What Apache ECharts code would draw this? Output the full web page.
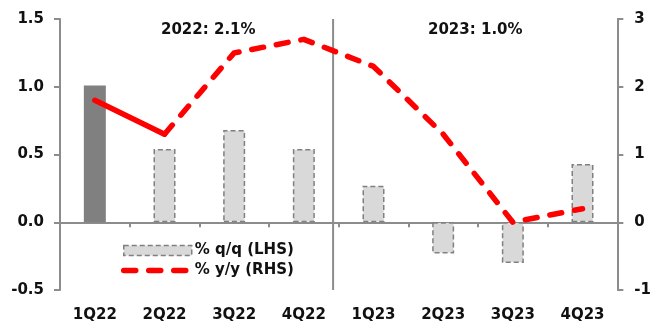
<!DOCTYPE html>
<html>
<head>
<meta charset="utf-8">
<script src="https://cdn.jsdelivr.net/npm/echarts@6/dist/echarts.min.js"></script>
<style>
  html, body { margin: 0; padding: 0; background: #fff; }
  #chart { width: 654px; height: 325px; }
</style>
</head>
<body>
<div id="chart"></div>
<script>
// Quarterly GDP growth: q/q bars on the left axis, y/y line on the right axis
const quarters = ['1Q22', '2Q22', '3Q22', '4Q22', '1Q23', '2Q23', '3Q23', '4Q23'];
const qoq = [1.01, 0.54, 0.68, 0.54, 0.27, -0.23, -0.30, 0.43];
const yoyActual = [1.8, 1.3, null, null, null, null, null, null];
const yoyForecast = [null, 1.3, 2.5, 2.7, 2.3, 1.3, 0.0, 0.2];
const leftTicks = { min: -0.5, max: 1.5, step: 0.5 };
const rightTicks = { min: -1, max: 3, step: 1 };
const yearNotes = ['2022: 2.1%', '2023: 1.0%'];
// Divider between 2022 and 2023, in category units from the left edge
const dividerAt = 3.92;

const FONT = 'DejaVu Sans';
const AXIS_GREY = '#8c8c8c';
const RED = '#ff0000';
const BAR_FILL = '#d9d9d9';
const BAR_EDGE = '#808080';
const labelStyle = { fontFamily: FONT, fontWeight: 'bold', fontSize: 15, color: '#111' };
const dashedLine = { color: RED, width: 5.5, type: [12, 13], cap: 'round', join: 'round' };
const barStyle = { color: BAR_FILL, borderColor: BAR_EDGE, borderWidth: 1.5, borderType: [5, 3] };

const chart = echarts.init(document.getElementById('chart'), null, { renderer: 'canvas' });

chart.setOption({
  animation: false,
  backgroundColor: '#fff',
  grid: { left: 60, right: 33, top: 19, bottom: 35, containLabel: false },
  legend: {
    orient: 'vertical',
    left: 116,
    top: 238,
    itemWidth: 68,
    itemHeight: 10,
    itemGap: 5,
    data: [
      { name: '% q/q (LHS)', icon: 'rect', itemStyle: barStyle },
      // line-only key: the marker dot is made transparent
      { name: '% y/y (RHS)', lineStyle: dashedLine, itemStyle: { color: 'rgba(0,0,0,0)', borderWidth: 0 } }
    ],
    textStyle: { fontFamily: FONT, fontWeight: 'bold', fontSize: 15, color: '#111', padding: [0, 0, 0, -2] }
  },
  graphic: [
    { type: 'text', left: 161, top: 23, style: { text: yearNotes[0], font: 'bold 15px "DejaVu Sans"', fill: '#111' } },
    { type: 'text', left: 428, top: 23, style: { text: yearNotes[1], font: 'bold 15px "DejaVu Sans"', fill: '#111' } }
  ],
  xAxis: [
    {
      type: 'category',
      data: quarters,
      axisLine: { onZero: true, lineStyle: { color: AXIS_GREY, width: 2 } },
      axisTick: { show: true, length: 5, lineStyle: { color: AXIS_GREY, width: 2 } },
      axisLabel: { show: false },
      splitLine: { show: false }
    },
    {
      type: 'category',
      data: quarters,
      position: 'bottom',
      axisLine: { show: false },
      axisTick: { show: false },
      axisLabel: Object.assign({ margin: 18 }, labelStyle),
      splitLine: { show: false }
    },
    {
      type: 'value',
      min: 0,
      max: quarters.length,
      show: false
    }
  ],
  yAxis: [
    {
      type: 'value',
      min: leftTicks.min,
      max: leftTicks.max,
      interval: leftTicks.step,
      axisLine: { show: true, lineStyle: { color: AXIS_GREY, width: 2 } },
      axisTick: { show: true, length: 6, lineStyle: { color: AXIS_GREY, width: 2 } },
      axisLabel: Object.assign({ margin: 16, formatter: v => v.toFixed(1) }, labelStyle),
      splitLine: { show: false }
    },
    {
      type: 'value',
      min: rightTicks.min,
      max: rightTicks.max,
      interval: rightTicks.step,
      position: 'right',
      axisLine: { show: true, lineStyle: { color: AXIS_GREY, width: 2 } },
      axisTick: { show: true, length: 6, lineStyle: { color: AXIS_GREY, width: 2 } },
      axisLabel: Object.assign({ margin: 17, formatter: v => String(v) }, labelStyle),
      splitLine: { show: false }
    }
  ],
  series: [
    {
      name: '% q/q (LHS)',
      type: 'bar',
      xAxisIndex: 0,
      yAxisIndex: 0,
      barWidth: 22,
      itemStyle: barStyle,
      data: qoq.map((v, i) => i === 0
        ? { value: v, itemStyle: { color: BAR_EDGE, borderWidth: 0 } }
        : v)
    },
    {
      name: 'divider',
      type: 'line',
      xAxisIndex: 2,
      yAxisIndex: 0,
      symbol: 'none',
      silent: true,
      lineStyle: { color: AXIS_GREY, width: 2 },
      data: [[dividerAt, leftTicks.min], [dividerAt, leftTicks.max]],
      z: 1
    },
    {
      name: 'y/y actual',
      type: 'line',
      xAxisIndex: 0,
      yAxisIndex: 1,
      symbol: 'none',
      lineStyle: { color: RED, width: 5.5, cap: 'round', join: 'round' },
      data: yoyActual,
      z: 3
    },
    {
      name: '% y/y (RHS)',
      type: 'line',
      xAxisIndex: 0,
      yAxisIndex: 1,
      symbol: 'none',
      itemStyle: { color: RED },
      lineStyle: dashedLine,
      data: yoyForecast,
      z: 3
    }
  ]
});
</script>
</body>
</html>
